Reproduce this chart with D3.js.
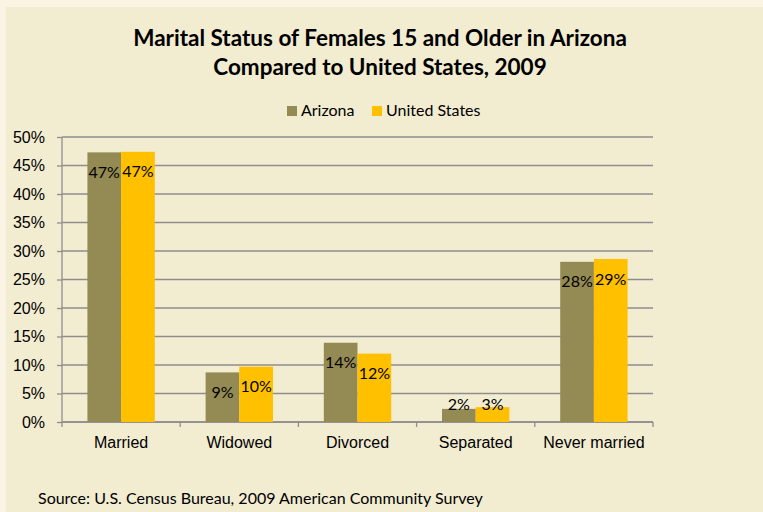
<!DOCTYPE html>
<html>
<head>
<meta charset="utf-8">
<script src="https://cdn.jsdelivr.net/npm/d3@7"></script>
<style>
body { margin:0; background:#FBF4E4; }
svg { display:block; font-family: Lato, "Open Sans", sans-serif; }
.axis text { font-size:16px; fill:#000; }
</style>
</head>
<body>
<svg></svg>
<script>
var categories = ["Married","Widowed","Divorced","Separated","Never married"]
var series = ["Arizona","United States"]
var arizona = [47.3, 8.7, 13.9, 2.3, 28.1]
var unitedStates = [47.4, 9.7, 12.0, 2.6, 28.6]
var yTicks = [0,5,10,15,20,25,30,35,40,45,50]
var colors = ["#948A54","#FFC000"]

var screen = {width:763,height:512}
var margins = {top:137,right:110,left:62,bottom:90}

var width = screen.width - margins.left - margins.right
var height = screen.height - margins.top - margins.bottom

var svg = d3.select("svg")
    .attr("width",screen.width)
    .attr("height",screen.height)

// panel
svg.append("rect")
    .attr("x",6).attr("y",7)
    .attr("width",screen.width-6).attr("height",screen.height-7)
    .attr("fill","#F2ECD1")

// title
var title = svg.append("text")
    .attr("text-anchor","middle")
    .style("font-weight","bold")
    .style("font-size","22.5px")
title.append("tspan").attr("x",380).attr("y",46).text("Marital Status of Females 15 and Older in Arizona")
title.append("tspan").attr("x",380).attr("y",75).text("Compared to United States, 2009")

// legend
var legendX = [287, 372]
var legend = svg.selectAll(".legend")
    .data(series)
    .enter()
    .append("g")
    .attr("class","legend")
    .attr("transform",function(d,i){return "translate("+legendX[i]+",106)"})
legend.append("rect")
    .attr("width",10).attr("height",10)
    .attr("fill",function(d,i){return colors[i]})
legend.append("text")
    .attr("x",14).attr("y",10)
    .style("font-size","16px")
    .text(function(d){return d})

var graph = svg.append("g")
    .attr("id","graph")
    .attr("transform","translate("+margins.left+","+margins.top+")")

var xScale = d3.scaleBand()
    .domain(categories)
    .range([0,width])
    .paddingInner(0.43)
    .paddingOuter(0.215)
var xBand = d3.scaleBand()
    .domain(series)
    .range([0,xScale.bandwidth()])
var yScale = d3.scaleLinear()
    .domain([0,50])
    .range([height,0])

// gridlines
graph.append("g")
    .selectAll("line")
    .data(yTicks)
    .enter()
    .append("line")
    .attr("x1",0).attr("x2",width)
    .attr("y1",function(d){return yScale(d)})
    .attr("y2",function(d){return yScale(d)})
    .attr("stroke","#8E8E8E")
    .attr("stroke-width",1.3)

var yAxis = d3.axisLeft(yScale)
    .tickValues(yTicks)
    .tickSize(5)
    .tickPadding(12)
    .tickFormat(function(d){return d+"%"})
graph.append("g")
    .attr("class","axis")
    .call(yAxis)
    .call(function(g){
        g.selectAll("path,line").attr("stroke","#8E8E8E").attr("stroke-width",1.3)
        g.select(".domain").attr("d","M0,0V"+height)
    })

// category axis
var step = width/categories.length
var xAxis = d3.axisBottom(xScale).tickSize(0).tickPadding(15)
var xg = graph.append("g")
    .attr("class","axis")
    .attr("transform","translate(0,"+height+")")
    .call(xAxis)
xg.select(".domain").attr("stroke","#8E8E8E").attr("stroke-width",1.3).attr("d","M0,0H"+width)
xg.selectAll(".cut")
    .data(d3.range(categories.length+1))
    .enter()
    .append("line")
    .attr("x1",function(i){return i*step}).attr("x2",function(i){return i*step})
    .attr("y1",0).attr("y2",5)
    .attr("stroke","#8E8E8E").attr("stroke-width",1.3)

// bars
var rows = categories.map(function(c,i){
    return {category:c, values:[
        {name:series[0], value:arizona[i]},
        {name:series[1], value:unitedStates[i]}
    ]}
})

var groups = graph.selectAll(".group")
    .data(rows)
    .enter()
    .append("g")
    .attr("class","group")
    .attr("transform",function(d){return "translate("+xScale(d.category)+",0)"})

groups.selectAll("rect")
    .data(function(d){return d.values})
    .enter()
    .append("rect")
    .attr("x",function(d){return xBand(d.name)})
    .attr("y",function(d){return yScale(d.value)})
    .attr("width",xBand.bandwidth())
    .attr("height",function(d){return height-yScale(d.value)})
    .attr("fill",function(d,i){return colors[i]})

groups.selectAll(".label")
    .data(function(d){return d.values})
    .enter()
    .append("text")
    .attr("class","label")
    .attr("x",function(d){return xBand(d.name)+xBand.bandwidth()/2})
    .attr("y",function(d){return Math.min(yScale(d.value)+20, height-18)})
    .attr("dy","0.35em")
    .attr("text-anchor","middle")
    .style("font-size","16px")
    .text(function(d){return Math.round(d.value)+"%"})

// source
svg.append("text")
    .attr("x",38).attr("y",504)
    .style("font-size","16px")
    .text("Source: U.S. Census Bureau, 2009 American Community Survey")
</script>
</body>
</html>
